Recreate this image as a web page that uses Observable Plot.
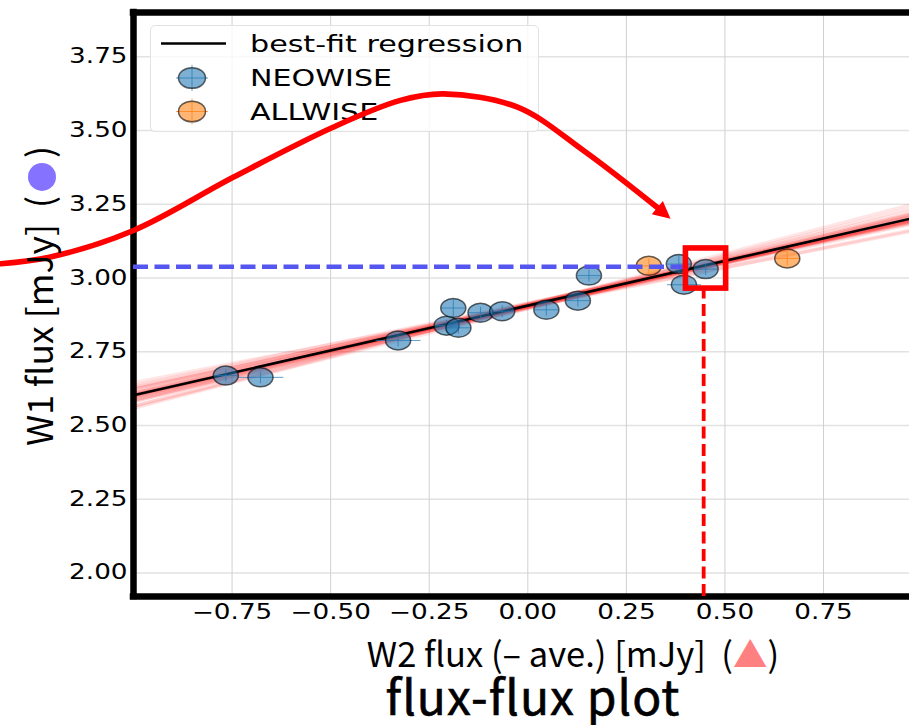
<!DOCTYPE html>
<html>
<head>
<meta charset="utf-8">
<script src="https://cdn.jsdelivr.net/npm/d3@7"></script>
<script src="https://cdn.jsdelivr.net/npm/@observablehq/plot@0.6"></script>
<style>
html, body { margin: 0; padding: 0; background: #fff; overflow: hidden; }
#wrap { position: relative; width: 909px; height: 725px; }
#legend { position: absolute; left: 150px; top: 25px; width: 389px; height: 107px;
  border: 1px solid #e2e2e2; border-radius: 5px; background: rgba(255,255,255,0.8); box-sizing: border-box; }
#ylab { position: absolute; left: 38px; top: 296px; transform: translate(-50%, -50%) rotate(-90deg);
  white-space: nowrap; font-family: "Noto Sans CJK JP", "Noto Sans", sans-serif; font-size: 35.5px; line-height: 1; color: #000; }
#ylab .dot { display: inline-block; width: 28px; height: 28px; border-radius: 50%; background: #8573ff; vertical-align: -3px; margin: 0 5px; }
#xlab { position: absolute; left: 573px; top: 653px; transform: translate(-50%, -50%);
  white-space: nowrap; font-family: "Noto Sans CJK JP", "Noto Sans", sans-serif; font-size: 34.5px; line-height: 0.9; color: #000; }
#xlab .tri { color: #ff8080; }
#title { position: absolute; left: 533px; top: 695px; transform: translate(-50%, -50%);
  white-space: nowrap; font-family: "Noto Sans CJK JP", "Noto Sans", sans-serif; font-size: 48px; font-weight: 400; line-height: 0.9; letter-spacing: 1px; color: #000;
  -webkit-text-stroke: 0.6px #000; }
</style>
</head>
<body>
<div id="wrap"></div>
<script>
// ---------------- data ----------------
const xTicks = [-0.75, -0.5, -0.25, 0, 0.25, 0.5, 0.75];
const yTicks = [2.0, 2.25, 2.5, 2.75, 3.0, 3.25, 3.5, 3.75];
const xDomain = [-1.0, 0.968];
const yDomain = [1.92, 3.90];

const seriesNames = ["NEOWISE", "ALLWISE"];
const seriesColors = ["#1f77b4", "#ff7f0e"];
const lineLabel = "best-fit regression";

const neoX    = [-0.766, -0.678, -0.329, -0.206, -0.189, -0.176, -0.120, -0.065, 0.047, 0.127, 0.155, 0.383, 0.396, 0.451];
const neoY    = [ 2.669,  2.663,  2.788,  2.838,  2.898,  2.831,  2.882,  2.887, 2.892, 2.923, 3.008, 3.047, 2.977, 3.030];
const neoXErr = [ 0.030,  0.058,  0.057,  0.030,  0.030,  0.030,  0.030,  0.030, 0.030, 0.030, 0.030, 0.030, 0.043, 0.030];
const neoYErr = [ 0.020,  0.020,  0.020,  0.020,  0.030,  0.020,  0.020,  0.020, 0.020, 0.020, 0.020, 0.030, 0.020, 0.020];

const allX    = [0.307, 0.658];
const allY    = [3.041, 3.066];
const allXErr = [0.030, 0.030];
const allYErr = [0.025, 0.025];

// best-fit line and posterior sample lines (intercept at x=0, slope)
const fitIntercept = 2.906;
const fitSlope = 0.304;
const sampleIntercepts = [2.900, 2.905, 2.910, 2.902, 2.908, 2.898, 2.912, 2.904, 2.895, 2.915, 2.906, 2.900, 2.910, 2.903, 2.908, 2.897, 2.913, 2.905, 2.901, 2.909, 2.904, 2.907, 2.899, 2.911];
const sampleSlopes     = [0.290, 0.310, 0.300, 0.320, 0.285, 0.305, 0.315, 0.295, 0.330, 0.280, 0.340, 0.270, 0.325, 0.300, 0.350, 0.310, 0.290, 0.260, 0.298, 0.312, 0.304, 0.296, 0.318, 0.288];

// annotations
const hLineY = 3.038, hLineXEnd = 0.395;
const vLineX = 0.446, vLineYEnd = 2.962;
const boxX = [0.401, 0.503], boxY = [2.964, 3.100];
const curveX = [-1.337, -1.211, -1.000, -0.746, -0.494, -0.323, -0.214, -0.026, 0.141, 0.330];
const curveY = [ 3.048,  3.071,  3.161,  3.342,  3.511,  3.602,  3.624,  3.579, 3.432, 3.237];
const arrowTip = {x: 0.362, y: 3.201, angle: 40};

// ---------------- build ----------------
const points = [
  ...neoX.map((x, i) => ({x, y: neoY[i], xe: neoXErr[i], ye: neoYErr[i], s: 0})),
  ...allX.map((x, i) => ({x, y: allY[i], xe: allXErr[i], ye: allYErr[i], s: 1}))
];
const samples = sampleIntercepts.map((a, i) => ({a, b: sampleSlopes[i]}));
const curve = curveX.map((x, i) => ({x, y: curveY[i]}));

const ellipse = {
  draw(ctx, size) {
    const r = Math.sqrt(size / Math.PI), rx = r * 1.32, ry = r, k = 0.5523;
    const kx = k * rx, ky = k * ry;
    ctx.moveTo(rx, 0);
    ctx.bezierCurveTo(rx, ky, kx, ry, 0, ry);
    ctx.bezierCurveTo(-kx, ry, -rx, ky, -rx, 0);
    ctx.bezierCurveTo(-rx, -ky, -kx, -ry, 0, -ry);
    ctx.bezierCurveTo(kx, -ry, rx, -ky, rx, 0);
    ctx.closePath();
  }
};
const arrowHead = {
  draw(ctx, size) {
    const r = Math.sqrt(size / Math.PI);
    ctx.moveTo(0, 0);
    ctx.lineTo(-2.7 * r, -1.35 * r);
    ctx.lineTo(-2.7 * r, 1.35 * r);
    ctx.closePath();
  }
};

const common = {
  width: 909, height: 725,
  marginLeft: 133, marginRight: 0, marginTop: 12, marginBottom: 129,
  x: {domain: xDomain},
  y: {domain: yDomain},
};
const fmt = d3.format(".2f");

const main = Plot.plot({
  ...common,
  style: {position: "absolute", left: "0px", top: "0px", background: "transparent",
          fontFamily: "DejaVu Sans", fontSize: "20.5px", overflow: "visible", color: "#000"},
  marks: [
    Plot.gridY(yTicks, {stroke: "#e2e2e2", strokeOpacity: 1, strokeWidth: 1.5}),
    Plot.gridX(xTicks, {stroke: "#d0d0d0", strokeOpacity: 1, strokeWidth: 1}),
    Plot.link(samples, {
      x1: () => xDomain[0], x2: () => xDomain[1],
      y1: d => d.a + d.b * xDomain[0], y2: d => d.a + d.b * xDomain[1],
      stroke: "#ff0000", strokeOpacity: 0.1, strokeWidth: 3.5
    }),
    Plot.link([{a: fitIntercept, b: fitSlope}], {
      x1: () => xDomain[0], x2: () => xDomain[1],
      y1: d => d.a + d.b * xDomain[0], y2: d => d.a + d.b * xDomain[1],
      stroke: "#000", strokeWidth: 2.6
    }),
    Plot.link(points, {x1: d => d.x - d.xe, x2: d => d.x + d.xe, y1: "y", y2: "y",
      stroke: d => seriesColors[d.s], strokeOpacity: 0.7, strokeWidth: 1}),
    Plot.link(points, {x1: "x", x2: "x", y1: d => d.y - d.ye, y2: d => d.y + d.ye,
      stroke: d => seriesColors[d.s], strokeOpacity: 0.7, strokeWidth: 1}),
    Plot.dot(points, {x: "x", y: "y", symbol: ellipse, r: 9.5,
      fill: d => seriesColors[d.s], fillOpacity: 0.58,
      stroke: "#000", strokeOpacity: 0.6, strokeWidth: 1.5}),
    Plot.axisX(xTicks, {tickSize: 0, tickPadding: 8, label: null, tickFormat: fmt}),
    Plot.axisY(yTicks, {tickSize: 0, tickPadding: 6, label: null, tickFormat: fmt}),
    Plot.ruleX([xDomain[0]], {stroke: "#000", strokeWidth: 6.5, strokeLinecap: "square"}),
    Plot.ruleY(yDomain, {stroke: "#000", strokeWidth: 6.5, strokeLinecap: "square"})
  ]
});

const overlay = Plot.plot({
  ...common,
  x: {domain: xDomain, axis: null},
  y: {domain: yDomain, axis: null},
  style: {position: "absolute", left: "0px", top: "0px", background: "transparent", overflow: "visible"},
  marks: [
    Plot.ruleY([hLineY], {x1: xDomain[0], x2: hLineXEnd, stroke: "#5555f0", strokeWidth: 4.5, strokeDasharray: "15,6.5"}),
    Plot.ruleX([vLineX], {y1: yDomain[0], y2: vLineYEnd, stroke: "#ff0000", strokeWidth: 3.8, strokeDasharray: "12,5.5"}),
    Plot.rect([{}], {x1: boxX[0], x2: boxX[1], y1: boxY[0], y2: boxY[1], fill: "none", stroke: "#ff0000", strokeWidth: 5.6}),
    Plot.line(curve, {x: "x", y: "y", curve: "catmull-rom", stroke: "#ff0000", strokeWidth: 5.6}),
    Plot.dot([arrowTip], {x: "x", y: "y", symbol: arrowHead, r: 6.4, rotate: "angle", fill: "#ff0000", stroke: "none"})
  ]
});

const wrap = document.getElementById("wrap");
wrap.appendChild(main);

// stretch tick labels horizontally like the reference
main.querySelectorAll("text").forEach(t => {
  const L = t.getComputedTextLength();
  t.setAttribute("textLength", (L * 1.28).toFixed(1));
  t.setAttribute("lengthAdjust", "spacingAndGlyphs");
});

// legend
const legend = document.createElement("div");
legend.id = "legend";
const ellPath = (cx, cy, rx, ry) => {
  const p = d3.path(), k = 0.5523;
  p.moveTo(cx + rx, cy);
  p.bezierCurveTo(cx + rx, cy + k * ry, cx + k * rx, cy + ry, cx, cy + ry);
  p.bezierCurveTo(cx - k * rx, cy + ry, cx - rx, cy + k * ry, cx - rx, cy);
  p.bezierCurveTo(cx - rx, cy - k * ry, cx - k * rx, cy - ry, cx, cy - ry);
  p.bezierCurveTo(cx + k * rx, cy - ry, cx + rx, cy - k * ry, cx + rx, cy);
  p.closePath();
  return p.toString();
};
let svgL = `<svg width="387" height="105" xmlns="http://www.w3.org/2000/svg" style="position:absolute;left:0;top:0;font-family:'DejaVu Sans';font-size:23px">`;
svgL += `<line x1="10" x2="75" y1="17.5" y2="17.5" stroke="#000" stroke-width="2.6"/>`;
svgL += `<text class="lt" x="99" y="26">${lineLabel}</text>`;
seriesNames.forEach((name, i) => {
  const cy = 52 + i * 33.5, cx = 41;
  svgL += `<line x1="${cx - 16}" x2="${cx + 16}" y1="${cy}" y2="${cy}" stroke="${seriesColors[i]}" stroke-opacity="0.7"/>`;
  svgL += `<line x1="${cx}" x2="${cx}" y1="${cy - 13}" y2="${cy + 13}" stroke="${seriesColors[i]}" stroke-opacity="0.7"/>`;
  svgL += `<path d="${ellPath(cx, cy, 13.5, 10.3)}" fill="${seriesColors[i]}" fill-opacity="0.58" stroke="#000" stroke-opacity="0.6" stroke-width="1.5"/>`;
  svgL += `<text class="lt" x="99" y="${cy + 8.4}">${name}</text>`;
});
svgL += `</svg>`;
legend.innerHTML = svgL;
wrap.appendChild(legend);
legend.querySelectorAll("text").forEach(t => {
  const L = t.getComputedTextLength();
  t.setAttribute("textLength", (L * 1.31).toFixed(1));
  t.setAttribute("lengthAdjust", "spacingAndGlyphs");
});

wrap.appendChild(overlay);

// axis labels and title
const ylab = document.createElement("div");
ylab.id = "ylab";
ylab.innerHTML = `W1 flux [mJy]&nbsp;&nbsp;(<span class="dot"></span>)`;
wrap.appendChild(ylab);

const xlab = document.createElement("div");
xlab.id = "xlab";
xlab.innerHTML = `W2 flux (– ave.) [mJy]&nbsp;&nbsp;(<span class="tri">▲</span>)`;
wrap.appendChild(xlab);

const title = document.createElement("div");
title.id = "title";
title.textContent = "flux-flux plot";
wrap.appendChild(title);
</script>
</body>
</html>
